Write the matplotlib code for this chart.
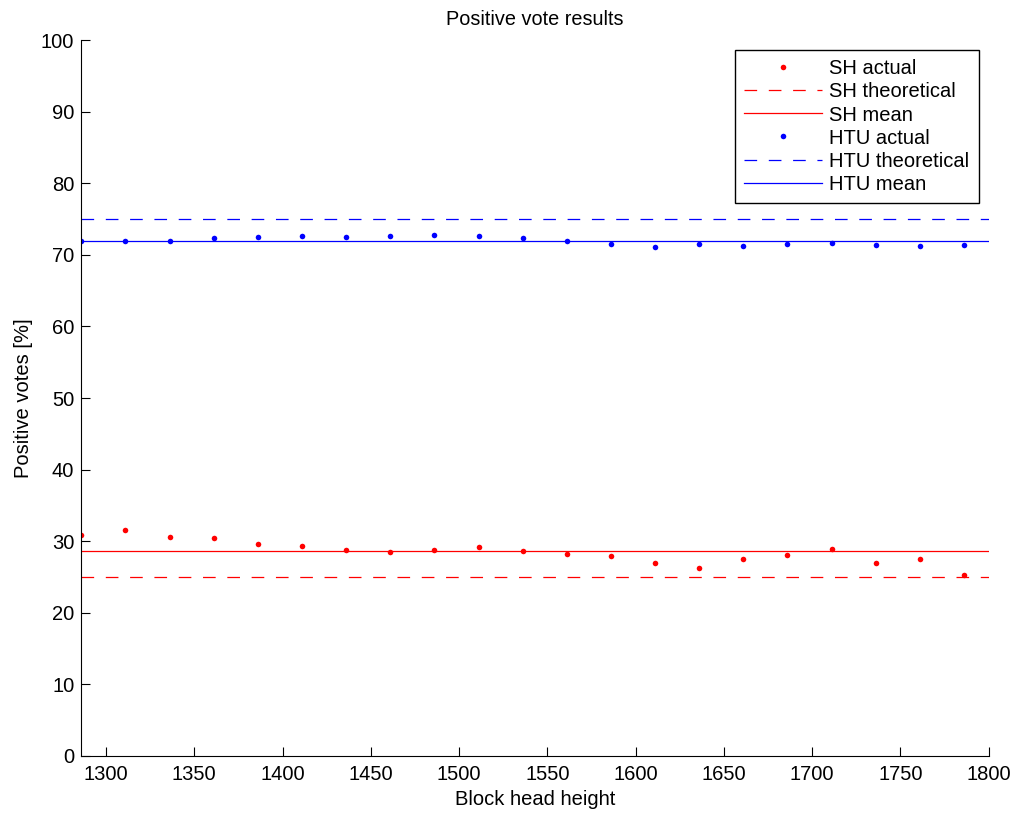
import matplotlib
matplotlib.use("Agg")
import matplotlib.pyplot as plt
import numpy as np

plt.rcParams['font.family'] = ['Liberation Sans', 'DejaVu Sans']
plt.rcParams['lines.scale_dashes'] = False

# block head heights
heights = [1286, 1311, 1336, 1361, 1386, 1411, 1436, 1461, 1486, 1511, 1536,
           1561, 1586, 1611, 1636, 1661, 1686, 1711, 1736, 1761, 1786]

sh_actual = [30.89, 31.59, 30.57, 30.43, 29.63, 29.35, 28.71, 28.52, 28.70, 29.20, 28.66,
             28.15, 27.91, 26.93, 26.24, 27.50, 28.10, 28.90, 26.89, 27.50, 25.26]
htu_actual = [71.90, 72.00, 71.95, 72.40, 72.50, 72.60, 72.50, 72.60, 72.80, 72.60, 72.30,
              71.90, 71.57, 71.15, 71.53, 71.30, 71.48, 71.70, 71.43, 71.30, 71.34]

sh_theory = 25
htu_theory = 75

xlim = (1286, 1800)

fig = plt.figure(figsize=(10.19, 8.13), dpi=100)
ax = fig.add_axes([0.0798, 0.0705, 0.8905, 0.8799])

dash = (9.1, 8.4)
ax.plot(heights, sh_actual, 'o', color='red', markersize=4, markeredgewidth=0, label='SH actual')
ax.plot(xlim, [sh_theory, sh_theory], '--', color='red', lw=0.9, dashes=dash, label='SH theoretical')
ax.plot(xlim, [np.mean(sh_actual)] * 2, '-', color='red', lw=0.9, label='SH mean')
ax.plot(heights, htu_actual, 'o', color='blue', markersize=4, markeredgewidth=0, label='HTU actual')
ax.plot(xlim, [htu_theory, htu_theory], '--', color='blue', lw=0.9, dashes=dash, label='HTU theoretical')
ax.plot(xlim, [np.mean(htu_actual)] * 2, '-', color='blue', lw=0.9, label='HTU mean')

ax.set_xlim(xlim)
ax.set_ylim(0, 100)
ax.set_xticks(range(1300, 1801, 50))
ax.set_yticks(range(0, 101, 10))
ax.tick_params(direction='in', length=6.5, width=0.8, labelsize=14.5, pad=5)
ax.tick_params(axis='x', pad=7)
ax.spines['top'].set_visible(False)
ax.spines['right'].set_visible(False)

ax.set_title('Positive vote results', fontsize=14.3, pad=11)
ax.set_xlabel('Block head height', fontsize=14.5, labelpad=4)
ax.set_ylabel('Positive votes [%]', fontsize=14.5, labelpad=6)

leg = ax.legend(loc='upper right', fontsize=14.5, fancybox=False, framealpha=1,
                edgecolor='black', handlelength=3.9, handletextpad=0.35,
                labelspacing=0.2, borderpad=0.45, borderaxespad=0.5)
leg.get_frame().set_linewidth(1)

fig.savefig('out.png', dpi=100)
